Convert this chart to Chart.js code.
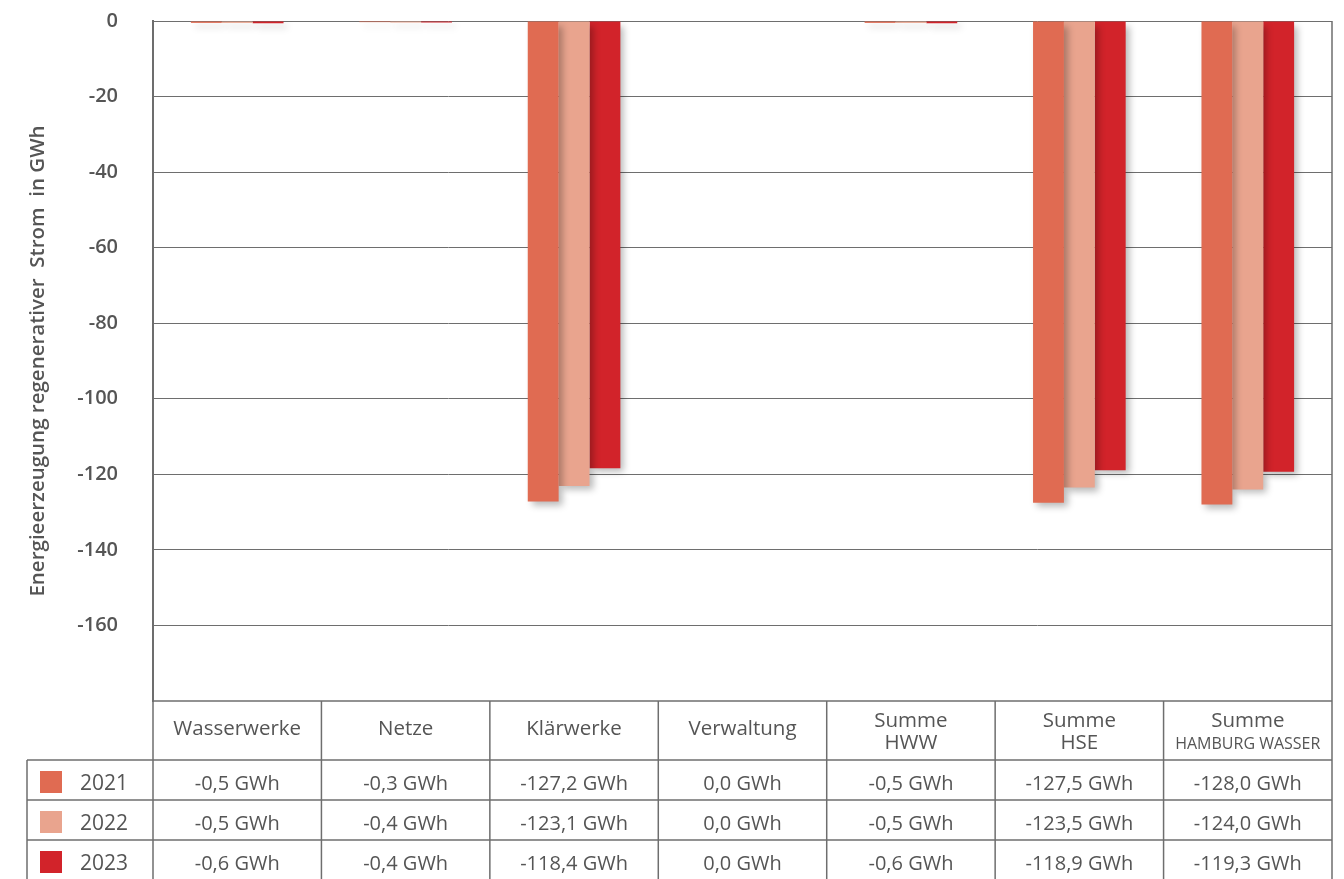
<!DOCTYPE html>
<html lang="de">
<head>
<meta charset="utf-8">
<script src="https://cdn.jsdelivr.net/npm/chart.js@4.4.1/dist/chart.umd.min.js"></script>
<style>
  html, body { margin: 0; padding: 0; background: #ffffff; }
  #wrap { position: relative; width: 1344px; height: 879px; }
</style>
</head>
<body>
<div id="wrap"><canvas id="c" width="1344" height="879"></canvas></div>
<script>
// Standorte / Bereiche
const categories = ['Wasserwerke', 'Netze', 'Klärwerke', 'Verwaltung', 'Summe HWW', 'Summe HSE', 'Summe HAMBURG WASSER'];
const headerLines = [['Wasserwerke'], ['Netze'], ['Klärwerke'], ['Verwaltung'], ['Summe', 'HWW'], ['Summe', 'HSE'], ['Summe', 'HAMBURG WASSER']];

// Energieerzeugung regenerativer Strom in GWh
const years = ['2021', '2022', '2023'];
const values2021 = [-0.5, -0.3, -127.2, 0.0, -0.5, -127.5, -128.0];
const values2022 = [-0.5, -0.4, -123.1, 0.0, -0.5, -123.5, -124.0];
const values2023 = [-0.6, -0.4, -118.4, 0.0, -0.6, -118.9, -119.3];

const yTicks = [0, -20, -40, -60, -80, -100, -120, -140, -160];

const colors = ['#E06B52', '#E9A48E', '#D2232A'];
const seriesValues = [values2021, values2022, values2023];

const FONT = '"Open Sans", "Noto Sans", sans-serif';
const TEXT = '#555555';
const LINE = '#6e6e6e';

function fmt(v) {
  return v.toFixed(1).replace('.', ',') + ' GWh';
}

// Soft drop shadow under each bar
const barShadow = {
  id: 'barShadow',
  beforeDatasetDraw(chart) {
    const ctx = chart.ctx;
    ctx.save();
    ctx.shadowColor = 'rgba(0,0,0,0.28)';
    ctx.shadowBlur = 7;
    ctx.shadowOffsetX = 4;
    ctx.shadowOffsetY = 4;
  },
  afterDatasetDraw(chart) {
    chart.ctx.restore();
  }
};

// Data table below the plot, aligned to the category scale
const dataTable = {
  id: 'dataTable',
  afterDraw(chart) {
    const ctx = chart.ctx;
    const area = chart.chartArea;
    const x = chart.scales.x;
    const left = area.left, right = area.right;
    const top = area.bottom;
    const headerBottom = top + 59;
    const rowH = 40;
    const legendLeft = 27;
    const n = categories.length;
    const step = (right - left) / n;

    ctx.save();
    ctx.strokeStyle = LINE;
    ctx.lineWidth = 1.5;

    // outer right border of plot + table
    ctx.beginPath();
    ctx.moveTo(right, area.top);
    ctx.lineTo(right, chart.height + 2);
    ctx.stroke();

    // left border continues into table
    ctx.beginPath();
    ctx.moveTo(left, area.top);
    ctx.lineTo(left, chart.height + 2);
    ctx.stroke();

    // plot bottom / header top
    ctx.beginPath();
    ctx.moveTo(left, top);
    ctx.lineTo(right, top);
    ctx.stroke();

    // column separators
    for (let i = 1; i < n; i++) {
      const cx = left + step * i;
      ctx.beginPath();
      ctx.moveTo(cx, top);
      ctx.lineTo(cx, chart.height + 2);
      ctx.stroke();
    }

    // row separators
    for (let r = 0; r < 3; r++) {
      const ry = headerBottom + rowH * r;
      ctx.beginPath();
      ctx.moveTo(legendLeft, ry);
      ctx.lineTo(right, ry);
      ctx.stroke();
    }
    // legend column left border
    ctx.beginPath();
    ctx.moveTo(legendLeft, headerBottom);
    ctx.lineTo(legendLeft, chart.height + 2);
    ctx.stroke();

    // header labels
    ctx.fillStyle = TEXT;
    ctx.textAlign = 'center';
    ctx.textBaseline = 'middle';
    headerLines.forEach((lines, i) => {
      const cx = x.getPixelForValue(i);
      const cy = (top + headerBottom) / 2;
      if (lines.length === 1) {
        ctx.font = '20.5px ' + FONT;
        ctx.fillText(lines[0], cx, cy - 1);
      } else {
        ctx.font = '20.5px ' + FONT;
        ctx.fillText(lines[0], cx, cy - 9);
        if (lines[1] === 'HAMBURG WASSER') {
          ctx.font = '16px ' + FONT;
          ctx.fillText(lines[1], cx, cy + 14);
        } else {
          ctx.font = '20.5px ' + FONT;
          ctx.fillText(lines[1], cx, cy + 13);
        }
      }
    });

    // value rows
    seriesValues.forEach((vals, r) => {
      const cy = headerBottom + rowH * r + rowH / 2 + 4;
      // legend swatch + year
      ctx.fillStyle = colors[r];
      ctx.fillRect(40, cy - 13, 22, 22);
      ctx.fillStyle = TEXT;
      ctx.textAlign = 'left';
      ctx.font = '21px ' + FONT;
      ctx.fillText(years[r], 80, cy);
      ctx.textAlign = 'center';
      ctx.font = '20px ' + FONT;
      vals.forEach((v, i) => {
        ctx.fillText(fmt(v), x.getPixelForValue(i), cy);
      });
    });

    ctx.restore();
  }
};

new Chart(document.getElementById('c'), {
  type: 'bar',
  data: {
    labels: categories,
    datasets: years.map((y, i) => ({
      label: y,
      data: seriesValues[i],
      backgroundColor: colors[i],
      borderWidth: 0,
      categoryPercentage: 0.55,
      barPercentage: 1.0
    }))
  },
  options: {
    responsive: false,
    animation: false,
    devicePixelRatio: 1,
    layout: { padding: { top: 21, right: 12, bottom: 178, left: 0 } },
    plugins: {
      legend: { display: false },
      tooltip: { enabled: false }
    },
    scales: {
      x: {
        display: false
      },
      y: {
        min: -180,
        max: 0,
        afterFit(scale) {
          scale.width = 153;
          scale.paddingTop = 0;
          scale.paddingBottom = 0;
        },
        afterBuildTicks(scale) { scale.ticks = yTicks.map(v => ({ value: v })); },
        grid: {
          color: LINE,
          lineWidth: 1,
          drawTicks: false
        },
        border: { display: true, color: LINE, width: 2 },
        ticks: {
          padding: 35,
          color: TEXT,
          font: { family: FONT, size: 20, weight: '600' },
          callback: v => String(v)
        },
        title: {
          display: true,
          text: 'Energieerzeugung regenerativer  Strom  in GWh',
          color: TEXT,
          font: { family: FONT, size: 20.5, weight: '600' },
          padding: { top: 26, bottom: 0 }
        }
      }
    }
  },
  plugins: [barShadow, dataTable]
});
</script>
</body>
</html>
